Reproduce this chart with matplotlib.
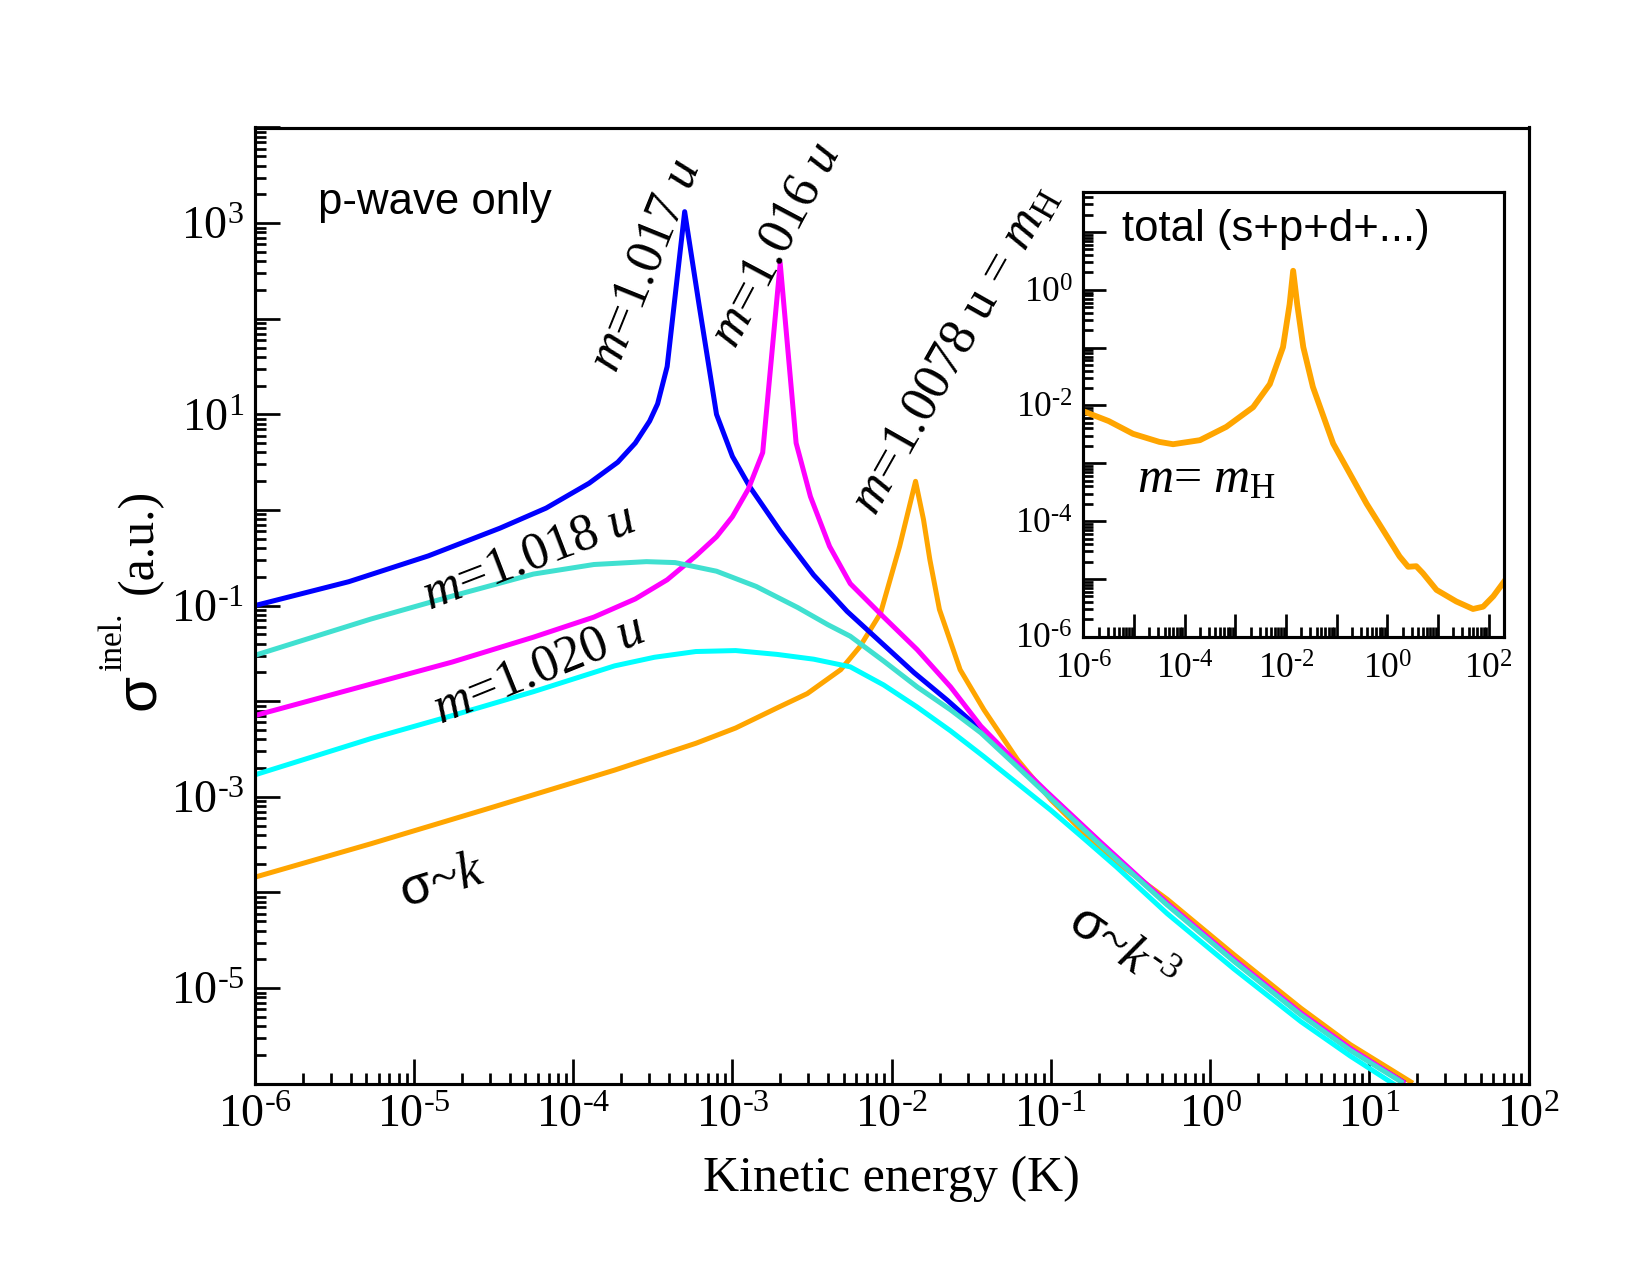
import numpy as np
import matplotlib
matplotlib.use("Agg")
import matplotlib.pyplot as plt
from matplotlib.ticker import LogLocator, FuncFormatter, NullFormatter

plt.rcParams["font.family"] = "Liberation Serif"
plt.rcParams["mathtext.fontset"] = "custom"
plt.rcParams["mathtext.rm"] = "Liberation Serif"
plt.rcParams["mathtext.it"] = "Liberation Serif:italic"
plt.rcParams["mathtext.bf"] = "Liberation Serif:bold"
plt.rcParams["mathtext.sf"] = "Liberation Sans"
plt.rcParams["mathtext.fallback"] = "stix"

# --- data: log10(E/K) and log10(sigma) ---
blue_logE = [-6.0, -5.41, -4.91, -4.46, -4.17, -3.90, -3.72, -3.61, -3.52, -3.47, -3.41,
             -3.30, -3.21, -3.10, -3.00, -2.89, -2.70, -2.49, -2.28, -2.07, -1.86, -1.65,
             -1.44, -1.24, -1.03, -0.69, -0.27, 0.15, 0.57, 0.88, 1.21]
blue_logS = [-1.00, -0.75, -0.48, -0.19, 0.02, 0.28, 0.50, 0.70, 0.93, 1.11, 1.50,
             3.12, 2.15, 1.00, 0.56, 0.24, -0.22, -0.68, -1.06, -1.38, -1.70, -1.99,
             -2.30, -2.62, -2.95, -3.48, -4.12, -4.71, -5.27, -5.64, -5.98]

magenta_logE = [-6.0, -5.27, -4.76, -4.25, -3.87, -3.61, -3.41, -3.23, -3.10, -3.00, -2.90,
                -2.81, -2.70, -2.60, -2.51, -2.39, -2.26, -2.05, -1.84, -1.63,
                -1.44, -1.24, -1.03, -0.69, -0.27, 0.15, 0.57, 0.88, 1.21]
magenta_logS = [-2.15, -1.82, -1.59, -1.33, -1.12, -0.93, -0.73, -0.48, -0.28, -0.07, 0.22,
                0.60, 2.58, 0.70, 0.14, -0.38, -0.77, -1.12, -1.46, -1.85,
                -2.26, -2.60, -2.94, -3.47, -4.11, -4.70, -5.26, -5.63, -5.98]

turq_logE = [-6.0, -5.27, -4.76, -4.25, -3.87, -3.54, -3.36, -3.10, -2.85, -2.59, -2.40,
             -2.26, -2.05, -1.84, -1.63, -1.44, -1.24, -1.03, -0.69, -0.27, 0.15, 0.57,
             0.88, 1.20]
turq_logS = [-1.52, -1.14, -0.90, -0.67, -0.57, -0.54, -0.55, -0.64, -0.80, -1.02, -1.20,
             -1.32, -1.58, -1.85, -2.09, -2.33, -2.64, -2.97, -3.50, -4.13, -4.72, -5.28,
             -5.65, -5.98]

cyan_logE = [-6.0, -5.27, -4.76, -4.25, -3.74, -3.49, -3.23, -2.98, -2.72, -2.49, -2.26,
             -2.05, -1.84, -1.63, -1.42, -1.21, -1.00, -0.79, -0.59, -0.27, 0.15, 0.57,
             0.88, 1.15]
cyan_logS = [-2.77, -2.39, -2.15, -1.90, -1.63, -1.54, -1.48, -1.47, -1.51, -1.56, -1.64,
             -1.83, -2.06, -2.31, -2.58, -2.86, -3.14, -3.44, -3.73, -4.22, -4.80, -5.35,
             -5.71, -6.00]

orange_logE = [-6.0, -5.27, -4.51, -3.74, -3.23, -2.98, -2.72, -2.53, -2.32, -2.20, -2.07,
               -1.95, -1.85, -1.80, -1.76, -1.70, -1.57, -1.42, -1.21, -1.00, -0.79, -0.59,
               -0.27, 0.15, 0.57, 0.88, 1.26]
orange_logS = [-3.84, -3.49, -3.11, -2.72, -2.44, -2.28, -2.07, -1.92, -1.67, -1.43, -1.08,
               -0.38, 0.30, -0.10, -0.52, -1.04, -1.67, -2.09, -2.61, -3.03, -3.38, -3.68,
               -4.07, -4.65, -5.21, -5.59, -5.98]

# inset: total cross section for m = m_H
total_logE = [-6.0, -5.5, -5.02, -4.5, -4.23, -3.70, -3.18, -2.65, -2.32, -2.06, -1.93,
              -1.86, -1.78, -1.66, -1.47, -1.07, -0.41, 0.24, 0.41, 0.57, 0.70, 0.97,
              1.36, 1.69, 1.89, 2.09, 2.30]
total_logS = [-2.10, -2.27, -2.49, -2.63, -2.67, -2.60, -2.37, -2.03, -1.63, -0.99, -0.25,
              0.33, -0.25, -0.99, -1.68, -2.66, -3.70, -4.61, -4.79, -4.78, -4.90, -5.19,
              -5.39, -5.52, -5.48, -5.30, -5.05]

series = [
    (orange_logE, orange_logS, "#FFA500"),
    (blue_logE, blue_logS, "#0000FF"),
    (magenta_logE, magenta_logS, "#FF00FF"),
    (turq_logE, turq_logS, "#40E0D0"),
    (cyan_logE, cyan_logS, "#00FFFF"),
]


def pow_label(v, pos):
    e = int(round(np.log10(v)))
    return r"$10^{\text{%d}}$" % e


def odd_label(v, pos):
    e = int(round(np.log10(v)))
    return pow_label(v, pos) if e % 2 else ""


def even_label(v, pos):
    e = int(round(np.log10(v)))
    return "" if e % 2 else pow_label(v, pos)


def style_log_axes(a, major_len, minor_len, size, xpad):
    for s in a.spines.values():
        s.set_linewidth(1.5)
    for axis in (a.xaxis, a.yaxis):
        axis.set_major_locator(LogLocator(base=10.0, subs=(1.0,), numticks=30))
        axis.set_minor_locator(LogLocator(base=10.0, subs=np.arange(2, 10), numticks=30))
        axis.set_minor_formatter(NullFormatter())
    a.tick_params(which="both", direction="in", top=False, right=False, labelsize=size)
    a.tick_params(which="major", length=major_len, width=1.3)
    a.tick_params(which="minor", length=minor_len, width=1.3)
    a.tick_params(axis="x", which="major", pad=xpad)
    a.tick_params(axis="y", which="major", pad=5)


fig = plt.figure(figsize=(11, 8.5), dpi=150)
ax = fig.add_axes([0.1544, 0.150, 0.772, 0.750])

for xs, ys, c in series:
    ax.plot(10.0 ** np.array(xs), 10.0 ** np.array(ys), color=c, lw=2.4)

ax.set_xscale("log")
ax.set_yscale("log")
ax.set_xlim(1e-6, 1e2)
ax.set_ylim(1e-6, 1e4)
style_log_axes(ax, 12, 5.5, 22, 5)
ax.xaxis.set_major_formatter(FuncFormatter(pow_label))
ax.yaxis.set_major_formatter(FuncFormatter(odd_label))

ax.set_xlabel("Kinetic energy (K)", fontsize=24)
ax.xaxis.set_label_coords(0.5, -0.075)

# y label built from pieces: sans sigma, serif superscript, serif units
ax.text(-0.091, 0.410, "σ", transform=ax.transAxes, rotation=90, fontsize=28,
        family="Liberation Sans", ha="center", va="center")
ax.text(-0.111, 0.462, "inel.", transform=ax.transAxes, rotation=90, fontsize=16,
        ha="center", va="center")
ax.text(-0.090, 0.567, "(a.u.)", transform=ax.transAxes, rotation=90, fontsize=24,
        ha="center", va="center")

ax.text(0.05, 0.922, "p-wave only", transform=ax.transAxes, fontsize=21,
        family="Liberation Sans", ha="left", va="center")

lab = dict(transform=ax.transAxes, fontsize=25, ha="center", va="center",
           rotation_mode="anchor")
ax.text(0.307, 0.856, r"$m$=1.017 $u$", rotation=68, **lab)
ax.text(0.409, 0.877, r"$m$=1.016 $u$", rotation=62, **lab)
ax.text(0.550, 0.767, r"$m$=1.0078 u = $m_{\mathrm{H}}$", rotation=60.5, **lab)
ax.text(0.215, 0.550, r"$m$=1.018 $u$", rotation=21, **lab)
ax.text(0.223, 0.433, r"$m$=1.020 $u$", rotation=22, **lab)
ax.text(0.147, 0.211, r"$\mathsf{\sigma}$~$k$", rotation=17, **lab)
ax.text(0.680, 0.140, r"$\mathsf{\sigma}$~$k^{\text{-3}}$", rotation=-35, **lab)

# --- inset ---
ins = fig.add_axes([0.6566, 0.5006, 0.2549, 0.3491])
ins.set_facecolor("white")
ins.plot(10.0 ** np.array(total_logE), 10.0 ** np.array(total_logS), color="#FFA500", lw=2.8)
ins.set_xscale("log")
ins.set_yscale("log")
ins.set_xlim(1e-6, 2e2)
ins.set_ylim(1e-6, 50)
style_log_axes(ins, 11, 5, 17, 8)
ins.xaxis.set_major_formatter(FuncFormatter(even_label))
ins.yaxis.set_major_formatter(FuncFormatter(even_label))
ins.text(0.092, 0.914, "total (s+p+d+...)", transform=ins.transAxes, fontsize=21,
         family="Liberation Sans", ha="left", va="center")
ins.text(0.128, 0.352, r"$m$= $m_{\mathrm{H}}$", transform=ins.transAxes, fontsize=24,
         ha="left", va="center")

fig.savefig("out.png", dpi=150)
